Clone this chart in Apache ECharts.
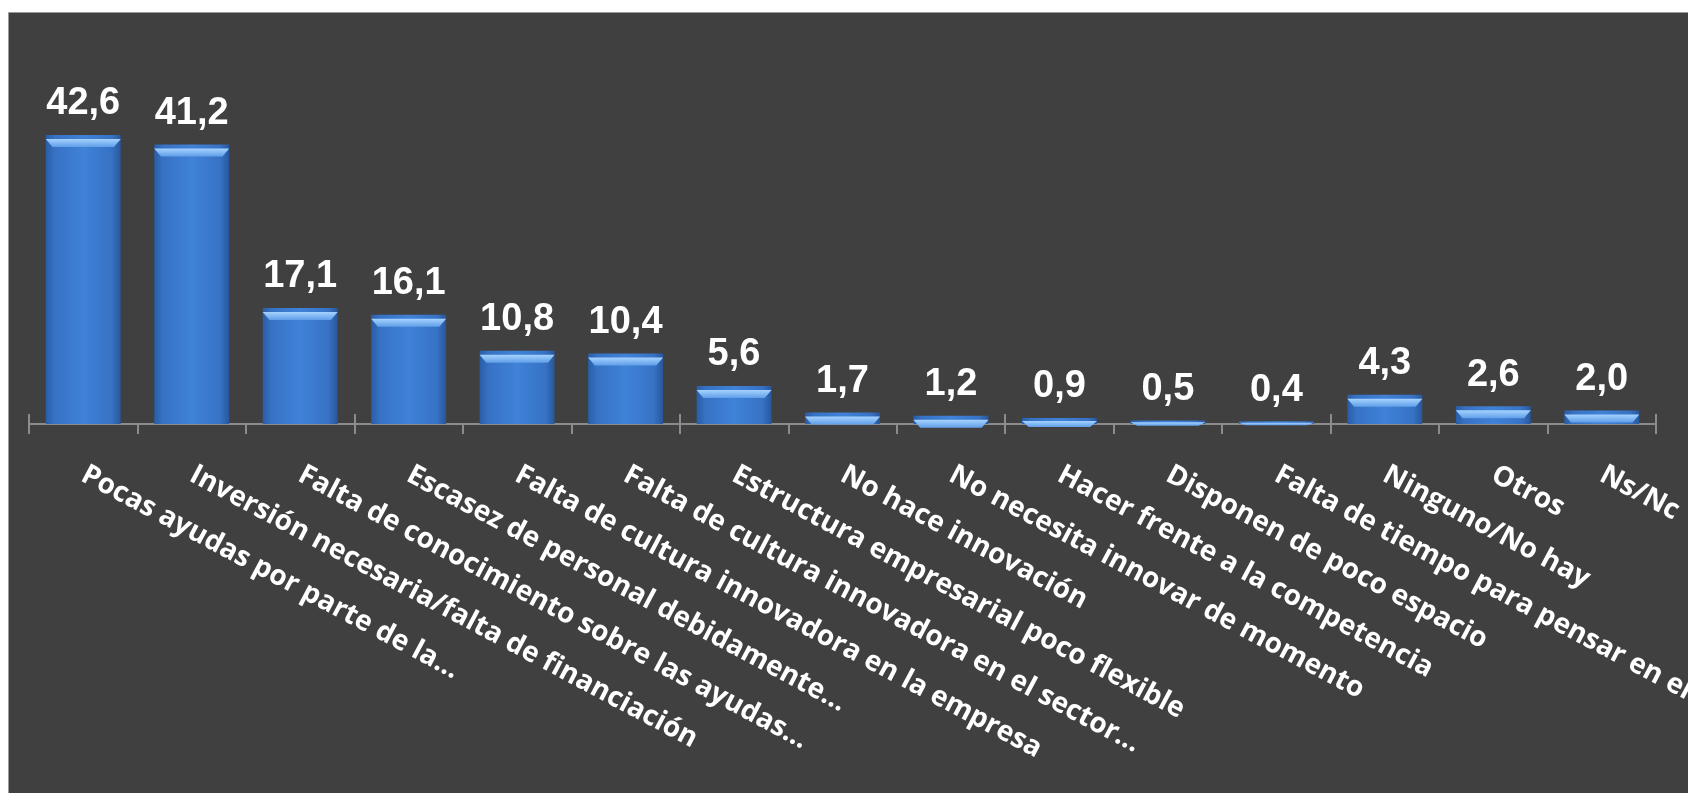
<!DOCTYPE html>
<html>
<head>
<meta charset="utf-8">
<script src="https://cdn.jsdelivr.net/npm/echarts@6/dist/echarts.min.js"></script>
<style>
html,body{margin:0;padding:0;background:#ffffff;}
#c{width:1688px;height:793px;}
</style>
</head>
<body>
<div id="c"></div>
<script>
const categories = [
  "Pocas ayudas por parte de la...",
  "Inversión necesaria/falta de financiación",
  "Falta de conocimiento sobre las ayudas...",
  "Escasez de personal debidamente...",
  "Falta de cultura innovadora en la empresa",
  "Falta de cultura innovadora en el sector...",
  "Estructura empresarial poco flexible",
  "No hace innovación",
  "No necesita innovar de momento",
  "Hacer frente a la competencia",
  "Disponen de poco espacio",
  "Falta de tiempo para pensar en ello",
  "Ninguno/No hay",
  "Otros",
  "Ns/Nc"
];
const values = [42.6, 41.2, 17.1, 16.1, 10.8, 10.4, 5.6, 1.7, 1.2, 0.9, 0.5, 0.4, 4.3, 2.6, 2.0];

const chart = echarts.init(document.getElementById('c'));
const axisColor = '#8c8c8c';
const pxPerUnit = 339.2 / 50;

chart.setOption({
  backgroundColor: '#ffffff',
  animation: false,
  graphic: [{
    type: 'rect',
    z: -10,
    silent: true,
    shape: {x: 8.5, y: 12.5, width: 1690, height: 790},
    style: {fill: '#404040', stroke: '#9a9a9a', lineWidth: 1}
  }],
  grid: {left: 29, right: 32, top: 84.8, bottom: 369, containLabel: false, outerBoundsMode: 'none'},
  xAxis: [{
    type: 'category',
    data: categories,
    position: 'bottom',
    axisLine: {show: true, lineStyle: {color: axisColor, width: 2}},
    axisTick: {show: true, length: 10, lineStyle: {color: axisColor, width: 2}},
    axisLabel: {
      show: true,
      interval: 0,
      rotate: -28,
      margin: 49,
      color: '#ffffff',
      fontFamily: 'Open Sans',
      fontWeight: 'bold',
      fontSize: 28
    }
  }, {
    type: 'category',
    data: categories,
    position: 'bottom',
    axisLine: {show: false},
    axisTick: {show: true, inside: true, length: 10, lineStyle: {color: axisColor, width: 2}},
    axisLabel: {show: false}
  }],
  yAxis: {type: 'value', min: 0, max: 50, show: false, splitLine: {show: false}},
  series: [{
    type: 'bar',
    data: values,
    barWidth: '69%',
    itemStyle: {
      color: new echarts.graphic.LinearGradient(0, 0, 1, 0, [
        {offset: 0, color: '#2a5da6'},
        {offset: 0.12, color: '#3772c4'},
        {offset: 0.5, color: '#3f82d8'},
        {offset: 0.88, color: '#3772c4'},
        {offset: 1, color: '#28579c'}
      ])
    },
    label: {
      show: true,
      position: 'top',
      distance: 12,
      color: '#ffffff',
      fontFamily: 'Liberation Sans',
      fontWeight: 'bold',
      fontSize: 38,
      formatter: p => p.value.toFixed(1).replace('.', ',')
    },
    z: 2
  }, {
    type: 'pictorialBar',
    data: values,
    symbol: 'path://M0,0L100,0L91,10L9,10Z',
    symbolPosition: 'end',
    symbolSize: v => [75, Math.min(8, v * pxPerUnit)],
    symbolOffset: [0, '50%'],
    itemStyle: {
      color: new echarts.graphic.LinearGradient(0, 0, 0, 1, [
        {offset: 0, color: '#a6d3ff'},
        {offset: 1, color: '#5f9ee8'}
      ])
    },
    silent: true,
    z: 3
  }]
});
</script>
</body>
</html>
